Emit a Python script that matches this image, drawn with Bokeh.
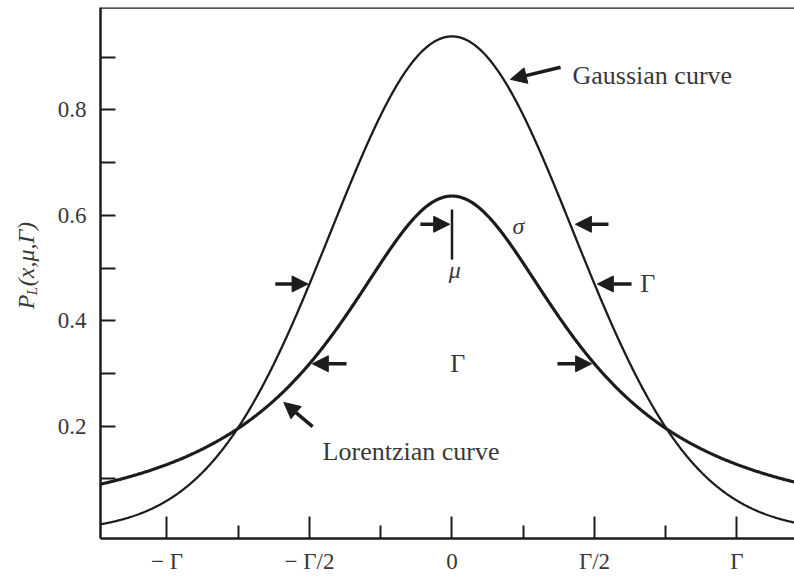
import numpy as np
from bokeh.plotting import figure
from bokeh.models import Range1d, FixedTicker, Span, Arrow, NormalHead, Label
from bokeh.core.properties import value
from bokeh.embed import file_html
from bokeh.resources import INLINE

# Line-shape parameters: full width at half maximum and centre
GAMMA = 1.0
MU = 0.0

X_TICKS = [-1.0, -0.5, 0.0, 0.5, 1.0]
X_TICK_LABELS = ["− Γ", "− Γ/2", "0", "Γ/2", "Γ"]
X_MINOR = [-0.75, -0.25, 0.25, 0.75]
Y_TICKS = [0.2, 0.4, 0.6, 0.8]
Y_TICK_LABELS = ["0.2", "0.4", "0.6", "0.8"]
Y_MINOR = [0.1, 0.3, 0.5, 0.7, 0.9]

INK = "#1c1c1c"
TEXT = "#383838"
SERIF = "Liberation Serif"

# Normalised Gaussian and Lorentzian with the same FWHM
x = np.linspace(-1.5, 1.5, 1201)
sigma = GAMMA / (2.0 * np.sqrt(2.0 * np.log(2.0)))
gauss = np.exp(-0.5 * ((x - MU) / sigma) ** 2) / (sigma * np.sqrt(2.0 * np.pi))
lorentz = (GAMMA / (2.0 * np.pi)) / ((x - MU) ** 2 + (GAMMA / 2.0) ** 2)
g_half = gauss.max() / 2.0
l_half = lorentz.max() / 2.0

p = figure(width=794, height=576, output_backend="svg", toolbar_location=None,
           x_range=Range1d(-1.2333, 1.2018), y_range=Range1d(-0.0132, 0.9943),
           min_border_left=100, min_border_right=0, min_border_top=7,
           min_border_bottom=36, outline_line_color=None,
           background_fill_color="white", border_fill_color="white")
p.xgrid.visible = False
p.ygrid.visible = False

# Axes
xa = p.xaxis[0]
xa.ticker = FixedTicker(ticks=X_TICKS, minor_ticks=X_MINOR)
xa.major_label_overrides = {t: s for t, s in zip(X_TICKS, X_TICK_LABELS)}
ya = p.yaxis[0]
ya.ticker = FixedTicker(ticks=Y_TICKS, minor_ticks=Y_MINOR)
ya.major_label_overrides = {t: s for t, s in zip(Y_TICKS, Y_TICK_LABELS)}
for ax in (xa, ya):
    ax.axis_line_color = INK
    ax.axis_line_width = 2.5
    ax.major_tick_line_color = INK
    ax.minor_tick_line_color = INK
    ax.major_tick_line_width = 2
    ax.minor_tick_line_width = 2
    ax.major_tick_out = 0
    ax.minor_tick_out = 0
    ax.major_label_text_font = SERIF
    ax.major_label_text_font_size = "23px"
    ax.major_label_text_color = TEXT
xa.major_tick_in = 22
xa.minor_tick_in = 13
xa.major_label_standoff = 10
ya.major_tick_in = 15
ya.minor_tick_in = 15
ya.major_label_standoff = 14

p.add_layout(Span(location=0.9943, dimension="width", line_color=INK, line_width=2.5))

# Curves
p.line(x, gauss, line_color=INK, line_width=2.3)
p.line(x, lorentz, line_color=INK, line_width=3.2)


def arrow(x0, y0, x1, y1):
    p.add_layout(Arrow(end=NormalHead(size=16, fill_color=INK, line_color=INK),
                       x_start=x0, y_start=y0, x_end=x1, y_end=y1,
                       line_color=INK, line_width=3.5))


def label(x0, y0, text, size="26px", style="normal", align="left", base="alphabetic"):
    p.add_layout(Label(x=x0, y=y0, text=text, text_font=SERIF, text_font_size=size,
                       text_font_style=style, text_color=TEXT,
                       text_align=align, text_baseline=base))


# Curve names
arrow(0.381, 0.881, 0.205, 0.858)
label(0.423, 0.865, "Gaussian curve")
arrow(-0.489, 0.199, -0.59, 0.245)
label(-0.454, 0.151, "Lorentzian curve")

# Gaussian width markers
arrow(-0.62, g_half, -0.505, g_half)
arrow(0.63, g_half, 0.51, g_half)
label(0.661, g_half, "Γ", base="middle")

# Lorentzian width markers
arrow(-0.37, l_half, -0.49, l_half)
arrow(0.37, l_half, 0.49, l_half)
label(0.02, l_half, "Γ", align="center", base="middle")

# Centre and standard deviation
y_sig = 0.583
arrow(-0.111, y_sig, -0.008, y_sig)
p.segment(x0=[MU], y0=[0.516], x1=[MU], y1=[0.611], line_color=INK, line_width=2.5)
label(0.01, 0.497, "μ", size="24px", style="italic", align="center", base="middle")
arrow(0.549, y_sig, 0.433, y_sig)
label(0.233, 0.579, "σ", size="24px", style="italic", align="center", base="middle")

# Rotated y-axis title P_L(x, μ, Γ), drawn as unclipped text glyphs left of the axis
title_parts = [(-1.4964, 0.4219, "P", "24px"), (-1.4754, 0.4484, "L", "15px"),
               (-1.4964, 0.4654, "(x,μ,Γ)", "24px")]
for tx, ty, txt, sz in title_parts:
    p.text(x=[tx], y=[ty], text=[txt], angle=np.pi / 2, level="overlay",
           text_font=value(SERIF), text_font_size=sz, text_font_style="italic",
           text_color=TEXT, text_baseline="alphabetic", text_align="left")

open("out.html", "w").write(file_html(p, INLINE))
